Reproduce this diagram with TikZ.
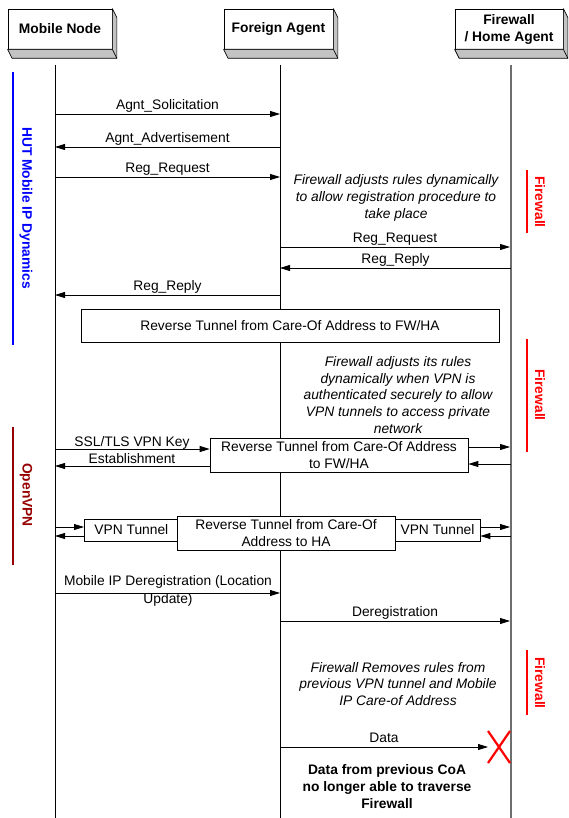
\documentclass[tikz,border=0pt]{standalone}
\usepackage{fontspec}
\setmainfont{Liberation Sans}
\usetikzlibrary{arrows.meta}
\definecolor{lifegray}{RGB}{110,110,110}
\definecolor{darkred}{RGB}{150,0,0}
\definecolor{sidegray}{RGB}{195,195,195}
\begin{document}
\begin{tikzpicture}[x=1pt,y=-1pt,
  font=\fontsize{13.8}{16.8}\selectfont,
  msg/.style={draw=black, line width=0.8pt, -{Triangle[length=10pt,width=6pt]}},
  lbl/.style={inner sep=0pt, above=4pt, text depth=0pt},
  head/.style={draw=black, line width=0.7pt, fill=white, inner sep=0pt, align=center,
    font=\fontsize{13.8}{17}\selectfont\bfseries},
  side/.style={draw=black, line width=0.7pt, fill=sidegray, line join=round},
  life/.style={draw=black, line width=0.7pt},
  fwlife/.style={draw=lifegray, line width=1.6pt},
  tbox/.style={draw=black, line width=0.7pt, fill=white, align=center, inner sep=0pt},
  note/.style={align=center, inner sep=0pt, font=\fontsize{13.8}{16.8}\selectfont\itshape},
  bar/.style={line width=2.5pt},
  vtext/.style={rotate=-90, inner sep=0pt, font=\fontsize{13.8}{16}\selectfont\bfseries}
]
\useasboundingbox (0,0) rectangle (569,818);
\fill[white] (0,0) rectangle (569,818);

% lifelines
\coordinate (mnTop) at (55,65);  \coordinate (mnBot) at (55,818);
\coordinate (faTop) at (280,65); \coordinate (faBot) at (280,818);
\coordinate (fwTop) at (511,65); \coordinate (fwBot) at (511,818);
\draw[life] (mnTop) -- (mnBot);
\draw[life] (faTop) -- (faBot);
\draw[fwlife] (fwTop) -- (fwBot);

% header boxes
\node[head, minimum width=104pt, minimum height=40pt] (mn) at (60,29) {Mobile Node};
\node[head, minimum width=109pt, minimum height=40pt] (fa) at (278.5,29) {Foreign Agent};
\node[head, minimum width=108pt, minimum height=40pt] (fw) at (509,29) {Firewall\\/ Home Agent};
\foreach \n in {mn,fa,fw}{
  \filldraw[side] (\n.north east) -- ([shift={(4.5,9)}]\n.north east)
     -- ([shift={(4.5,9)}]\n.south east) -- ([shift={(4.5,9)}]\n.south west)
     -- (\n.south west) -- (\n.south east) -- cycle;
  \draw[line width=0.7pt] (\n.south east) -- ([shift={(4.5,9)}]\n.south east);
}

% side bars
\draw[bar, blue] (13,72) -- (13,345);
\node[vtext, text=blue] (hut) at (26,208) {HUT Mobile IP Dynamics};
\draw[bar, darkred] (13,427) -- (13,565);
\node[vtext, text=darkred] (ovpn) at (26,495) {OpenVPN};
\draw[bar, red] (527,170) -- (527,233);
\node[vtext, text=red] (fw1) at (540,202) {Firewall};
\draw[bar, red] (527,339) -- (527,452);
\node[vtext, text=red] (fw2) at (540,395) {Firewall};
\draw[bar, red] (527,650) -- (527,715);
\node[vtext, text=red] (fw3) at (540,683) {Firewall};

% messages
\coordinate (m1) at (55,114);  \coordinate (f1) at (280,114);
\draw[msg] (m1) -- node[lbl] {Agnt\_Solicitation} (f1);
\coordinate (f2) at (280,147); \coordinate (m2) at (55,147);
\draw[msg] (f2) -- node[lbl] {Agnt\_Advertisement} (m2);
\coordinate (m3) at (55,177);  \coordinate (f3) at (280,177);
\draw[msg] (m3) -- node[lbl] {Reg\_Request} (f3);

\node[note] (n1) at (396,198) {Firewall adjusts rules dynamically\\to allow registration procedure to\\take place};

\coordinate (f4) at (280,247); \coordinate (w4) at (510,247);
\draw[msg] (f4) -- node[lbl] {Reg\_Request} (w4);
\coordinate (w5) at (511,268); \coordinate (f5) at (280,268);
\draw[msg] (w5) -- node[lbl] {Reg\_Reply} (f5);
\coordinate (f6) at (280,295); \coordinate (m6) at (55,295);
\draw[msg] (f6) -- node[lbl] {Reg\_Reply} (m6);

\node[tbox, minimum width=418pt, minimum height=33pt] (rt1) at (290,325.5) {Reverse Tunnel from Care-Of Address to FW/HA};

\node[note] (n2) at (398,395) {Firewall adjusts its rules\\dynamically when VPN is\\authenticated securely to allow\\VPN tunnels to access private\\network};

% SSL/TLS
\node[tbox, minimum width=258pt, minimum height=34pt, font=\fontsize{13.8}{17}\selectfont] (rt2) at (339,455) {Reverse Tunnel from Care-Of Address\\to FW/HA};
\coordinate (m7) at (55,449); \coordinate (m8) at (55,466);
\coordinate (w7) at (510,447); \coordinate (w8) at (511,464);
\draw[msg] (m7) -- (rt2.west |- m7);
\draw[msg] (rt2.west |- m8) -- (m8);
\node[align=center, inner sep=0pt, font=\fontsize{13.8}{17}\selectfont] (ssl) at (132,450) {SSL/TLS VPN Key\\Establishment};
\draw[msg] (rt2.east |- w7) -- (w7);
\draw[msg] (w8) -- (rt2.east |- w8);

% VPN tunnel row
\coordinate (m9) at (55,527); \coordinate (m10) at (55,536);
\coordinate (w9) at (510,527); \coordinate (w10) at (511,536);
\node[tbox, minimum width=100pt, minimum height=22pt, anchor=west] (vpn1) at (84,530) {\hspace*{2pt}VPN Tunnel\hspace*{8pt}};
\node[tbox, minimum width=85pt, minimum height=22pt] (vpn2) at (437.5,530) {VPN Tunnel};
\node[tbox, minimum width=218pt, minimum height=34pt, font=\fontsize{13.8}{17}\selectfont] (rt3) at (286,533) {Reverse Tunnel from Care-Of\\Address to HA};
\draw[msg] (m9) -- (vpn1.west |- m9);
\draw[msg] (vpn1.west |- m10) -- (m10);
\draw[msg] (vpn2.east |- w9) -- (w9);
\draw[msg] (w10) -- (vpn2.east |- w10);

% deregistration
\coordinate (m11) at (55,593); \coordinate (f11) at (280,593);
\draw[msg] (m11) -- (f11);
\node[align=center, inner sep=0pt, font=\fontsize{13.8}{18}\selectfont] (dereg) at (168,591) {Mobile IP Deregistration (Location\\Update)};
\coordinate (f12) at (280,621); \coordinate (w12) at (510,621);
\draw[msg] (f12) -- node[lbl] {Deregistration} (w12);

\node[note] (n3) at (398,684) {Firewall Removes rules from\\previous VPN tunnel and Mobile\\IP Care-of Address};

% data
\coordinate (f13) at (280,747); \coordinate (x13) at (488,747);
\draw[msg] (f13) -- node[lbl] {Data} (x13);
\draw[red, line width=2.2pt] (488,731) -- (510,763) (510,731) -- (488,763);
\node[align=center, inner sep=0pt, font=\fontsize{13.8}{17}\selectfont\bfseries] (blk) at (387,787) {Data from previous CoA\\no longer able to traverse\\Firewall};
\end{tikzpicture}
\end{document}
